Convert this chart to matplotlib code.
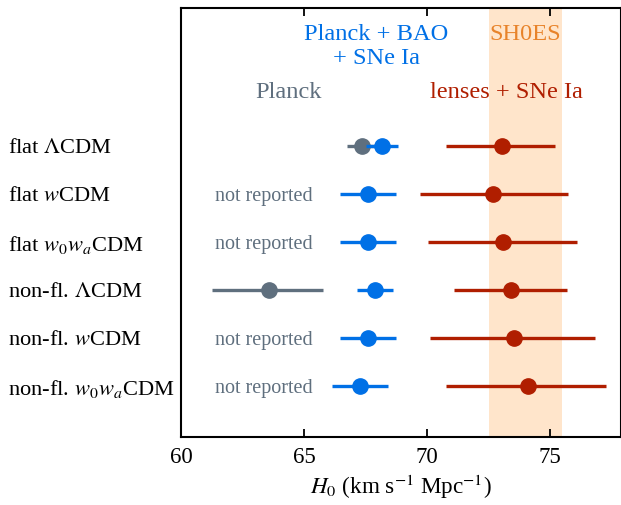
import matplotlib
matplotlib.use("Agg")
import matplotlib.pyplot as plt
import matplotlib.transforms as mtrans

plt.rcParams['font.family'] = ['Liberation Serif', 'DejaVu Serif']
plt.rcParams['mathtext.fontset'] = 'stix'

models = ["flat $\\Lambda$CDM", "flat $w$CDM", "flat $w_0w_a$CDM",
          "non-fl. $\\Lambda$CDM", "non-fl. $w$CDM", "non-fl. $w_0w_a$CDM"]

# Planck (None = not reported)
planck_val = [67.36, None, None, 63.59, None, None]
planck_lo = [66.76, None, None, 61.25, None, None]
planck_hi = [67.95, None, None, 65.76, None, None]

# Planck + BAO + SNe Ia
pbs_val = [68.18, 67.59, 67.59, 67.89, 67.59, 67.28]
pbs_lo = [67.53, 66.46, 66.46, 67.14, 66.46, 66.15]
pbs_hi = [68.83, 68.74, 68.74, 68.63, 68.74, 68.44]

# lenses + SNe Ia
len_val = [73.06, 72.70, 73.08, 73.44, 73.54, 74.12]
len_lo = [70.80, 69.74, 70.05, 71.10, 70.15, 70.77]
len_hi = [75.22, 75.74, 76.11, 75.70, 76.86, 77.30]

# SH0ES band
shoes_lo, shoes_hi = 72.55, 75.50

xticks = [60, 65, 70, 75]

c_gray = '#5f6f7e'
c_blue = '#0070e6'
c_red = '#b01e00'
c_band = '#ffe5cb'
c_orange = '#e8832a'

fig = plt.figure(figsize=(6.21, 5.05), dpi=100)
ax = fig.add_axes([181/621, (505-437)/505, 1 - 181/621, (437-8)/505])

ax.axvspan(shoes_lo, shoes_hi, color=c_band, lw=0, zorder=0)

lw = 2.4
ms = 11
for i in range(len(models)):
    y = -i
    if planck_val[i] is not None:
        ax.plot([planck_lo[i], planck_hi[i]], [y, y], color=c_gray, lw=lw, solid_capstyle='butt', zorder=2)
        ax.plot(planck_val[i], y, 'o', color=c_gray, ms=ms, zorder=3)
    else:
        ax.text(63.38, y, "not reported", color=c_gray, fontsize=14.5, ha='center', va='center_baseline')
    ax.plot([pbs_lo[i], pbs_hi[i]], [y, y], color=c_blue, lw=lw, solid_capstyle='butt', zorder=4)
    ax.plot(pbs_val[i], y, 'o', color=c_blue, ms=ms, zorder=5)
    ax.plot([len_lo[i], len_hi[i]], [y, y], color=c_red, lw=lw, solid_capstyle='butt', zorder=4)
    ax.plot(len_val[i], y, 'o', color=c_red, ms=ms, zorder=5)

trans = mtrans.blended_transform_factory(fig.transFigure, ax.transData)
for i, m in enumerate(models):
    ax.text(8/621, -i, m, transform=trans, ha='left', va='center_baseline', fontsize=16.2, clip_on=False)

fs = 17.6
ax.text(67.95, 2.375, "Planck + BAO", color=c_blue, fontsize=fs, ha='center', va='center_baseline')
ax.text(67.95, 1.875, "+ SNe Ia", color=c_blue, fontsize=fs, ha='center', va='center_baseline')
ax.text(64.39, 1.167, "Planck", color=c_gray, fontsize=fs, ha='center', va='center_baseline')
ax.text(73.24, 1.167, "lenses + SNe Ia", color=c_red, fontsize=fs, ha='center', va='center_baseline')
ax.text(74.0, 2.375, "SH0ES", color=c_orange, fontsize=fs, ha='center', va='center_baseline')

ax.set_xlim(60, 77.9)
ax.set_ylim(-6.0625, 2.875)
ax.set_yticks([])
ax.set_xticks(xticks)
ax.set_xticklabels([str(t) for t in xticks])
ax.tick_params(axis='x', direction='in', top=True, length=6, width=1.3, labelsize=16.5, pad=7)
for s in ax.spines.values():
    s.set_linewidth(1.5)
ax.set_xlabel("$H_0$ (km s$^{-1}$ Mpc$^{-1}$)", fontsize=16.7, labelpad=4)

fig.savefig("out.png", dpi=100)
